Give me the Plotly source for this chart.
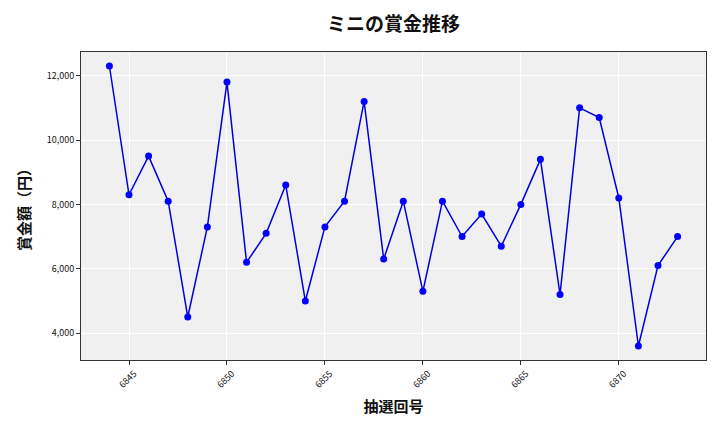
import plotly.graph_objects as go

draws = list(range(6844, 6874))
prizes = [12300, 8300, 9500, 8100, 4500, 7300, 11800, 6200, 7100, 8600,
          5000, 7300, 8100, 11200, 6300, 8100, 5300, 8100, 7000, 7700,
          6700, 8000, 9400, 5200, 11000, 10700, 8200, 3600, 6100, 7000]
x_ticks = [6845, 6850, 6855, 6860, 6865, 6870]
y_ticks = [4000, 6000, 8000, 10000, 12000]

font = "Noto Sans CJK JP"
xspan = max(draws) - min(draws)
yspan = max(prizes) - min(prizes)

fig = go.Figure(go.Scatter(
    x=draws, y=prizes, mode="lines+markers",
    line=dict(color="#0000dd", width=1.5),
    marker=dict(color="#0000ff", size=7),
))

fig.update_layout(
    width=712, height=424,
    margin=dict(l=73, r=14, t=44, b=72, autoexpand=False),
    paper_bgcolor="white", plot_bgcolor="#f0f0f0",
    showlegend=False,
    font=dict(family=font, color="#111"),
    title=dict(text="<b>ミニの賞金推移</b>", xref="paper", x=0.5, xanchor="center",
               yref="container", y=1 - 16 / 424, yanchor="middle",
               font=dict(size=19, family=font), automargin=False),
)
fig.update_xaxes(
    automargin=False,
    range=[min(draws) - 0.05 * xspan, max(draws) + 0.05 * xspan],
    tickvals=x_ticks, ticktext=[str(v) for v in x_ticks], tickangle=-45,
    ticklabelshift=5,
    tickfont=dict(size=9), ticks="outside", ticklen=4, tickcolor="#333",
    showgrid=True, gridcolor="white", gridwidth=1, zeroline=False,
    showline=True, linecolor="#333", linewidth=1, mirror=True,
    title=dict(text="<b>抽選回号</b>", font=dict(size=15), standoff=11),
)
fig.update_yaxes(
    automargin=False,
    range=[min(prizes) - 0.05 * yspan, max(prizes) + 0.05 * yspan],
    tickvals=y_ticks, ticktext=[f"{v:,}" for v in y_ticks],
    tickfont=dict(size=9), ticks="outside", ticklen=4, tickcolor="#333",
    showgrid=True, gridcolor="white", gridwidth=1, zeroline=False,
    showline=True, linecolor="#333", linewidth=1, mirror=True,
    title=dict(text="<b>賞金額（円）</b>", font=dict(size=15), standoff=12),
)

fig.write_html("out.html")
